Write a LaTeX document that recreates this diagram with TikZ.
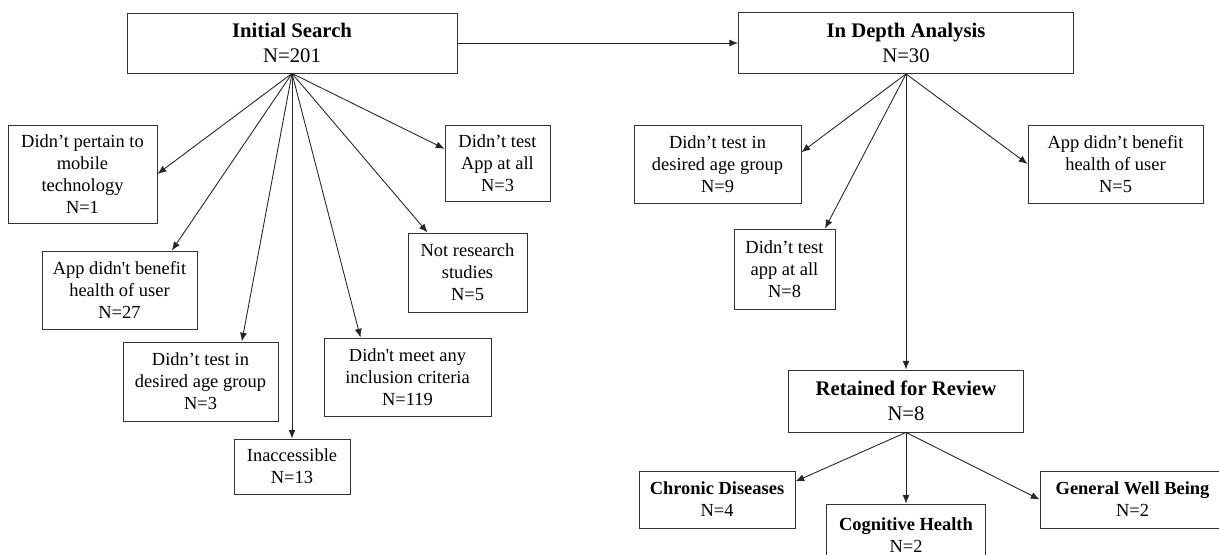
\documentclass[tikz,border=0pt]{standalone}
\usepackage{fontspec}
\setmainfont{Liberation Serif}
\usetikzlibrary{arrows.meta}
\tikzset{
	box/.style={draw=black!80, line width=0.5pt, align=center, inner sep=0pt, font=\fontsize{10.5}{12.5}\selectfont},
	bigbox/.style={box, font=\fontsize{11.8}{14.2}\selectfont},
	link/.style={-{Latex[length=5pt,width=4pt]}, draw=black!85, line width=0.5pt}
}
\begin{document}
\begin{tikzpicture}[x=0.02cm, y=-0.02cm]
	\useasboundingbox (0,0) rectangle (1219,554);
	\node[bigbox, minimum width=6.6cm, minimum height=1.2cm] (init) at (292,43) {\textbf{Initial Search}\\N=201};
	\node[bigbox, minimum width=6.7cm, minimum height=1.22cm] (depth) at (906,43) {\textbf{In Depth Analysis}\\N=30};
	\node[box, minimum width=2.98cm, minimum height=1.96cm] (pertain) at (82.5,174) {Didn’t pertain to\\mobile\\technology\\N=1};
	\node[box, minimum width=2.1cm, minimum height=1.52cm] (testapp) at (497.5,163) {Didn’t test\\App at all\\N=3};
	\node[box, minimum width=3.1cm, minimum height=1.56cm] (benefit) at (119.5,290) {App didn\textquotesingle t benefit\\health of user\\N=27};
	\node[box, minimum width=2.38cm, minimum height=1.58cm] (research) at (467.5,272.5) {Not research\\studies\\N=5};
	\node[box, minimum width=3.1cm, minimum height=1.58cm] (agegrp) at (200.5,381.5) {Didn’t test in\\desired age group\\N=3};
	\node[box, minimum width=3.34cm, minimum height=1.56cm] (criteria) at (407.5,377) {Didn\textquotesingle t meet any\\inclusion criteria\\N=119};
	\node[box, minimum width=2.32cm, minimum height=1.1cm] (inacc) at (292,466.5) {Inaccessible\\N=13};
	\node[box, minimum width=3.34cm, minimum height=1.56cm] (ragegrp) at (717.5,164) {Didn’t test in\\desired age group\\N=9};
	\node[box, minimum width=2.02cm, minimum height=1.6cm] (rtestapp) at (784.5,269) {Didn’t test\\app at all\\N=8};
	\node[box, minimum width=3.5cm, minimum height=1.56cm] (rbenefit) at (1115.5,164) {App didn’t benefit\\health of user\\N=5};
	\node[bigbox, minimum width=4.7cm, minimum height=1.24cm] (retained) at (906,401) {\textbf{Retained for Review}\\N=8};
	\node[box, minimum width=3.12cm, minimum height=1.14cm] (chronic) at (717,499.5) {\textbf{Chronic Diseases}\\N=4};
	\node[box, minimum width=3.18cm, minimum height=1.24cm] (cognitive) at (906,535) {\textbf{Cognitive Health}\\N=2};
	\node[box, minimum width=3.7cm, minimum height=1.14cm] (wellbeing) at (1132.5,499.5) {\textbf{General Well Being}\\N=2};

	\draw[link] (init.east) -- (depth.west);
	\draw[link] (init.south) -- (pertain.east);
	\draw[link] (init.south) -- (benefit.37);
	\draw[link] (init.south) -- (agegrp.44);
	\draw[link] (init.south) -- (inacc.north);
	\draw[link] (init.south) -- (criteria.140);
	\draw[link] (init.south) -- (research.135);
	\draw[link] (init.south) -- (testapp.165);

	\draw[link] (depth.south) -- (ragegrp.8);
	\draw[link] (depth.south) -- (rtestapp.45);
	\draw[link] (depth.south) -- (rbenefit.west);
	\draw[link] (depth.south) -- (retained.north);

	\draw[link] (retained.south) -- (chronic.13);
	\draw[link] (retained.south) -- (cognitive.north);
	\draw[link] (retained.south) -- (wellbeing.west);
\end{tikzpicture}
\end{document}
